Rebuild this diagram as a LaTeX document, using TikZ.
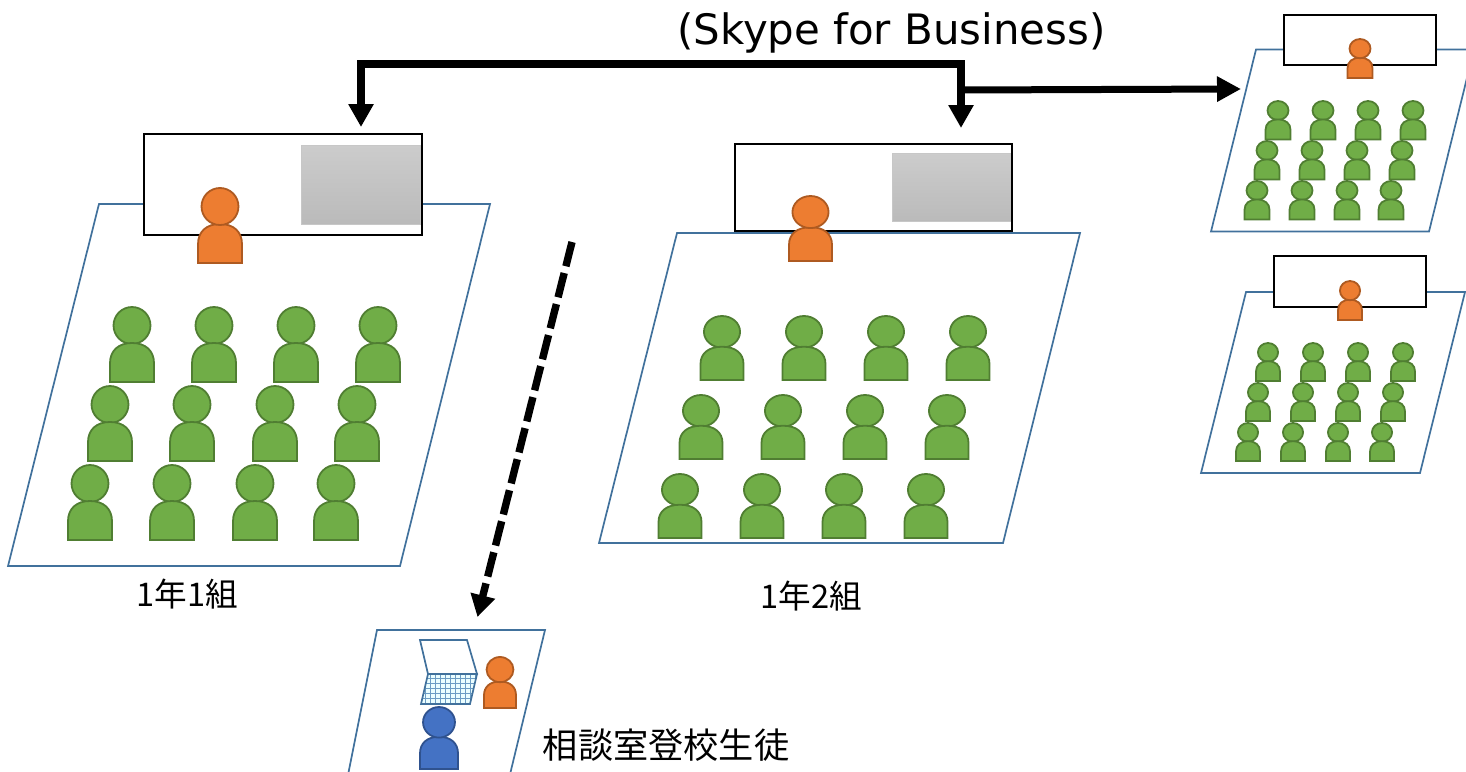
\documentclass[tikz,border=0pt]{standalone}
\usepackage{fontspec}
\setmainfont{Noto Sans CJK JP}
\newfontfamily\latinfont{DejaVu Sans}
\usetikzlibrary{arrows.meta}
\definecolor{gfill}{HTML}{70AD47}\definecolor{gline}{HTML}{507E32}
\definecolor{ofill}{HTML}{ED7D31}\definecolor{oline}{HTML}{AE5A21}
\definecolor{bfill}{HTML}{4472C4}\definecolor{bline}{HTML}{2F528F}
\definecolor{room}{HTML}{41719C}
\definecolor{gridc}{HTML}{6C9CC4}
\tikzset{
  roomshape/.style={draw=room,line width=0.85pt,line join=miter},
  boardbox/.style={draw=black,fill=white,line width=1pt,outer sep=0pt},
  screenbox/.style={draw=black!22,line width=0.5pt,top color=black!20,bottom color=black!27,shading angle=0},
  pgreen/.style={draw=gline,fill=gfill,line width=0.9pt},
  porange/.style={draw=oline,fill=ofill,line width=0.9pt},
  pblue/.style={draw=bline,fill=bfill,line width=0.9pt},
  bigarrow/.style={line width=3.8pt,draw=black,line join=miter,-{Triangle[length=11.5pt,width=12pt]}},
  sidearrow/.style={line width=3.5pt,draw=black,-{Triangle[length=12pt,width=12pt]}},
  dasharrow/.style={line width=3.7pt,draw=black,dash pattern=on 12.5pt off 3.5pt,-{Triangle[length=11pt,width=12pt]}},
  label/.style={inner sep=0pt,text=black}
}
\newcommand\bodyshape[5]{%
  \pgfmathsetmacro\pl{#1-#3/2}\pgfmathsetmacro\pr{#1+#3/2}%
  \pgfmathsetmacro\pb{#2+#4}\pgfmathsetmacro\pt{#2+0.48*#4}%
  \pgfmathsetmacro\ps{\pt+0.27*#4}\pgfmathsetmacro\pka{\ps-0.62*0.27*#4}%
  \pgfmathsetmacro\pkb{#1-0.62*#3/2}\pgfmathsetmacro\pkc{#1+0.62*#3/2}%
  \draw[#5] (\pl,\pb) -- (\pl,\ps) .. controls (\pl,\pka) and (\pkb,\pt) .. (#1,\pt)
     .. controls (\pkc,\pt) and (\pr,\pka) .. (\pr,\ps) -- (\pr,\pb) -- cycle;}
\newcommand\headshape[5]{%
  \pgfmathsetmacro\hy{#2+0.2467*#4}\pgfmathsetmacro\hrx{0.42*#3}\pgfmathsetmacro\hry{0.2467*#4}%
  \draw[#5] (#1,\hy) ellipse [x radius=\hrx,y radius=\hry];}
\newcommand\personA[5]{\headshape{#1}{#2}{#3}{#4}{#5}\bodyshape{#1}{#2}{#3}{#4}{#5}}
\newcommand\personB[5]{\bodyshape{#1}{#2}{#3}{#4}{#5}\headshape{#1}{#2}{#3}{#4}{#5}}
\begin{document}
\begin{tikzpicture}[x=0.5pt,y=-0.5pt]
\useasboundingbox (0,0) rectangle (1466,771);
\clip (0,0) rectangle (1466,771);
% rooms
\draw[roomshape] (99,204) -- (490,204) -- (400,566) -- (8,566) -- cycle;
\draw[roomshape] (677,233) -- (1080,233) -- (1003,543) -- (599,543) -- cycle;
\draw[roomshape] (1256,49.5) -- (1474,49.5) -- (1429,231.5) -- (1211,231.5) -- cycle;
\draw[roomshape] (1246,292) -- (1465,292) -- (1420,473) -- (1201,473) -- cycle;
\draw[roomshape] (377,630) -- (545,630) -- (505,795) -- (344,795) -- cycle;
% boards
\node[boardbox,minimum width=139pt,minimum height=50.5pt,inner sep=0pt] (boardA) at (283,184.5) {};
\node[screenbox,minimum width=59.5pt,minimum height=39.5pt,inner sep=0pt] (screenA) at (360.5,184.5) {};
\draw[boardbox,fill=none] (boardA.north west) rectangle (boardA.south east);
\node[boardbox,minimum width=138.5pt,minimum height=43.5pt,inner sep=0pt] (boardB) at (873.5,187.5) {};
\node[screenbox,minimum width=59.5pt,minimum height=34pt,inner sep=0pt] (screenB) at (951.5,187) {};
\draw[boardbox,fill=none] (boardB.north west) rectangle (boardB.south east);
\node[boardbox,minimum width=76pt,minimum height=25pt,inner sep=0pt] (boardC) at (1360,40) {};
\node[boardbox,minimum width=76pt,minimum height=25.5pt,inner sep=0pt] (boardD) at (1350,281.5) {};
% class 1
\personB{220}{188}{44}{75}{porange}
\foreach \x in {132,214,296,378}{\personA{\x}{307}{44}{75}{pgreen}}
\foreach \x in {110,192,275,357}{\personA{\x}{386}{44}{75}{pgreen}}
\foreach \x in {90,172,255,336}{\personA{\x}{465}{44}{75}{pgreen}}
% class 2
\personB{810.5}{196}{43}{65}{porange}
\foreach \x in {722,804,886,968}{\personA{\x}{316}{43}{64}{pgreen}}
\foreach \x in {701,783,865,947}{\personA{\x}{395}{43}{64}{pgreen}}
\foreach \x in {680,762,844,926}{\personA{\x}{474}{43}{64}{pgreen}}
% right rooms
\personB{1360}{39}{25}{39}{porange}
\foreach \x in {1278,1323,1368,1413}{\personA{\x}{101}{25}{38.5}{pgreen}}
\foreach \x in {1267,1312,1357,1402}{\personA{\x}{141}{25}{38.5}{pgreen}}
\foreach \x in {1257,1302,1347,1391}{\personA{\x}{181}{25}{38.5}{pgreen}}
\personB{1350}{281}{24}{39}{porange}
\foreach \x in {1268,1313,1358,1403}{\personA{\x}{343}{24}{38}{pgreen}}
\foreach \x in {1258,1303,1348,1393}{\personA{\x}{383}{24}{38}{pgreen}}
\foreach \x in {1248,1293,1338,1382}{\personA{\x}{423}{24}{38}{pgreen}}
% consultation room
\draw[draw=room,line width=0.85pt,fill=white] (420,640) -- (467,640) -- (477,674) -- (428,674) -- cycle;
\begin{scope}
\clip (428,674) -- (477,674) -- (470,704) -- (421,704) -- cycle;
\fill[blue!4!cyan!8] (415,670) rectangle (480,708);
\foreach \x in {425,430,...,480}{\draw[gridc,line width=0.5pt] (\x,670) -- (\x,708);}
\foreach \y in {678,683,...,705}{\draw[gridc,line width=0.5pt] (415,\y) -- (480,\y);}
\end{scope}
\draw[draw=room,line width=0.85pt] (428,674) -- (477,674) -- (470,704) -- (421,704) -- cycle;
\personB{500}{657}{32}{51}{porange}
\personB{439}{707}{38}{62}{pblue}
% connectors
\coordinate (teamsA) at (361,127);
\coordinate (teamsB) at (961,128);
\coordinate (teamsC) at (1241,89);
\coordinate (branch) at (961,90);
\coordinate (corner1) at (361,63.8);
\coordinate (corner2) at (961,63.8);
\coordinate (dashS) at (572,242);
\coordinate (dashE) at (477.5,617);
\draw[bigarrow] (corner2) -- (corner1) -- (teamsA);
\draw[bigarrow] (corner1) -- (corner2) -- (teamsB);
\draw[sidearrow] (branch) -- (teamsC);
\draw[dasharrow] (dashS) -- (dashE);
% text
\node[label,font=\latinfont\fontsize{20.95pt}{24pt}\selectfont] (skype) at (891.5,33) {(Skype for Business)};
\node[label,font=\fontsize{16.3pt}{18pt}\selectfont] (lblA) at (187,594) {1年1組};
\node[label,font=\fontsize{16.3pt}{18pt}\selectfont] (lblB) at (811,596) {1年2組};
\node[label,font=\fontsize{17.6pt}{21pt}\selectfont] (lblC) at (666,745) {相談室登校生徒};
\end{tikzpicture}
\end{document}
